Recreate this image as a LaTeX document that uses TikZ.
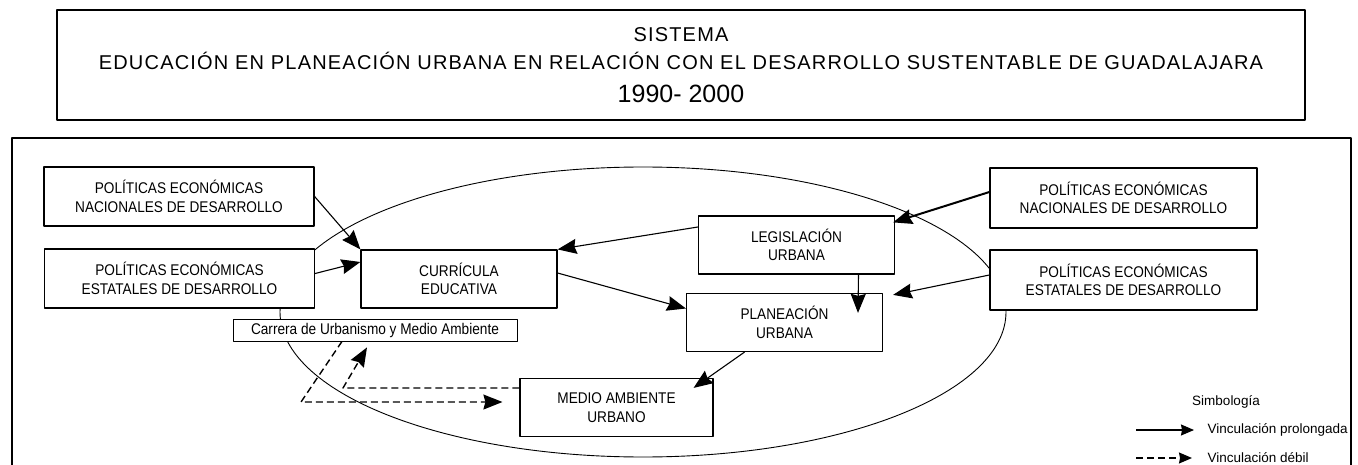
\documentclass[tikz,border=0pt]{standalone}
\usepackage{fontspec}
\setmainfont{Liberation Sans}
\newfontfamily\titlefont[LetterSpace=6]{Liberation Sans}
\newfontfamily\angosta[FakeStretch=0.88]{Liberation Sans}
\usetikzlibrary{arrows.meta}

\begin{document}
\begin{tikzpicture}[x=1pt, y=-1pt, >={Stealth[length=19pt,width=15pt,inset=2pt]}, line join=round,
  caja/.style={draw, line width=1.2pt, fill=white, align=center, inner sep=0pt,
    font=\angosta\fontsize{15.5}{18.5}\selectfont},
  ancha/.style={caja, minimum width=270pt, minimum height=59pt},
  media/.style={caja, minimum width=196pt, minimum height=58pt},
  fuerte/.style={->, line width=1.1pt},
  debil/.style={->, line width=1.4pt, dash pattern=on 7pt off 4pt},
  leyenda/.style={font=\fontsize{13.5}{16}\selectfont}]
  \useasboundingbox (0,0) rectangle (1358,465);
  % titulo y marco
  \node[draw, line width=1.2pt, minimum width=1248pt, minimum height=110pt, align=center,
    font=\titlefont\fontsize{20}{28}\selectfont] (titulo) at (681,65)
    {SISTEMA\\EDUCACIÓN EN PLANEACIÓN URBANA EN RELACIÓN CON EL DESARROLLO SUSTENTABLE DE GUADALAJARA\\[5pt]
     \rmfamily\fontsize{25}{30}\selectfont 1990- 2000};
  \draw[line width=1.2pt] (12,470) -- (12,138) -- (1351,138) -- (1351,470);
  % sistema
  \draw[line width=0.9pt] (643,312) ellipse [x radius=363, y radius=145];
  \node[ancha] (pnacI) at (179,196.5) {POLÍTICAS ECONÓMICAS\\NACIONALES DE DESARROLLO};
  \node[ancha] (pestI) at (179.5,278.5) {POLÍTICAS ECONÓMICAS\\ESTATALES DE DESARROLLO};
  \node[media] (curr) at (459,279) {CURRÍCULA\\EDUCATIVA};
  \node[media] (leg) at (796.5,245) {LEGISLACIÓN\\URBANA};
  \node[media] (plan) at (784.5,322.5) {PLANEACIÓN\\URBANA};
  \node[media, minimum width=193pt] (medio) at (616.5,407.5) {MEDIO AMBIENTE\\URBANO};
  \node[ancha, minimum width=267pt, minimum height=60pt] (pnacD) at (1123.5,198) {POLÍTICAS ECONÓMICAS\\NACIONALES DE DESARROLLO};
  \node[ancha, minimum width=267pt, minimum height=60pt] (pestD) at (1123.5,280) {POLÍTICAS ECONÓMICAS\\ESTATALES DE DESARROLLO};
  \node[draw, fill=white, line width=0.8pt, minimum width=284pt, minimum height=22pt, inner sep=0pt,
    font=\angosta\fontsize{15.5}{17}\selectfont] (carrera) at (375,330) {Carrera de Urbanismo y Medio Ambiente};
  % vinculaciones
  \draw[fuerte] (pnacI.east) -- (curr.north west);
  \draw[fuerte] ([yshift=5pt]pestI.east) -- ([yshift=17pt]curr.west);
  \draw[fuerte] ([yshift=18pt]leg.west) -- (curr.north east);
  \draw[fuerte] ([yshift=6pt]curr.east) -- ([yshift=14pt]plan.west);
  \draw[fuerte] ([xshift=62pt]leg.south) -- ([xshift=73.5pt,yshift=-20pt]plan.north);
  \draw[fuerte, line width=2pt] ([yshift=6pt]pnacD.west) -- ([xshift=-2pt,yshift=-7pt]leg.north east);
  \draw[fuerte] ([yshift=5pt]pestD.west) -- ([xshift=10pt,yshift=-2pt]plan.north east);
  \draw[fuerte] ([xshift=-40pt]plan.south) -- ([xshift=-20pt,yshift=-10pt]medio.north east);
  \coordinate (codo1) at (301,402);
  \coordinate (codo2) at (343,388);
  \draw[debil] ([xshift=-33pt]carrera.south) -- (codo1) -- ([xshift=-17pt,yshift=5.5pt]medio.west);
  \draw[debil] ([yshift=19.5pt]medio.west) -- (codo2) -- ([xshift=-8pt,yshift=-6pt]carrera.south);
  % simbologia
  \node[leyenda] (simbologia) at (1226,402) {Simbología};
  \node[leyenda, anchor=west] (prolongada) at (1204,430) {Vinculación prolongada};
  \node[leyenda, anchor=west] (debil) at (1204,458) {Vinculación débil};
  \coordinate (leyA) at (1136,430);
  \coordinate (leyB) at (1136,458);
  \draw[fuerte, >={Stealth[length=13pt,width=11pt,inset=1pt]}] (leyA) -- ([xshift=-10pt]prolongada.west);
  \draw[debil, >={Stealth[length=13pt,width=11pt,inset=1pt]}] (leyB) -- ([xshift=-12pt]debil.west);
\end{tikzpicture}
\end{document}
